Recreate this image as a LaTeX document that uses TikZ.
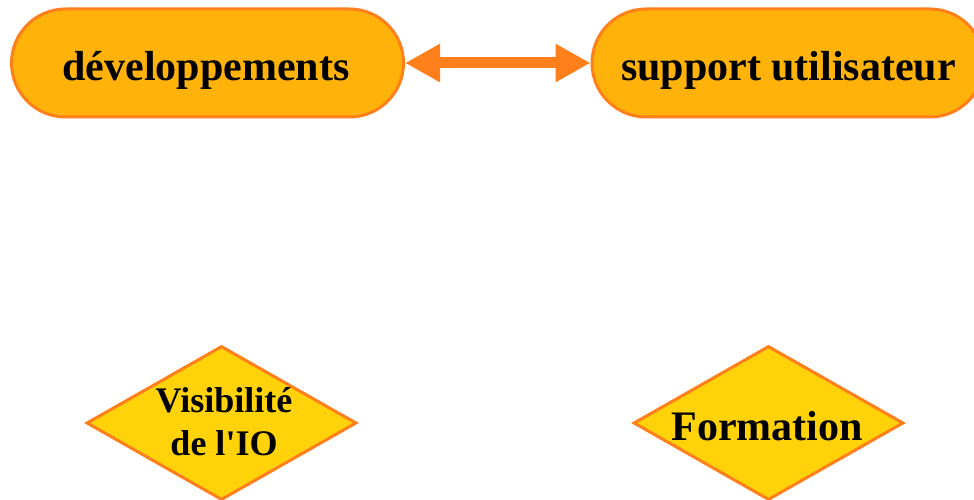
\documentclass[tikz,border=0pt]{standalone}
\usepackage{fontspec}
\setmainfont{Liberation Serif}
\usetikzlibrary{shapes.misc,shapes.geometric,arrows.meta}
\definecolor{pillfill}{RGB}{255,179,10}
\definecolor{diafill}{RGB}{255,210,10}
\definecolor{edgeor}{RGB}{255,127,26}
\tikzset{
  pill/.style={rounded rectangle, draw=edgeor, fill=pillfill, line width=3pt,
    minimum width=392pt, minimum height=108pt, inner sep=0pt},
  dia/.style={diamond, draw=edgeor, fill=diafill, line width=3pt,
    minimum width=270pt, minimum height=154pt, inner sep=0pt},
  bigtxt/.style={anchor=base, inner sep=0pt, font=\fontsize{42}{50}\selectfont\bfseries},
  smalltxt/.style={anchor=base, inner sep=0pt, font=\fontsize{36}{43}\selectfont\bfseries},
  link/.style={draw=edgeor, line width=11pt,
    {Triangle[length=35pt,width=36pt]}-{Triangle[length=35pt,width=36pt]}}
}
\begin{document}
\begin{tikzpicture}[x=1pt,y=-1pt]
\useasboundingbox (0,0) rectangle (974,500);
\node[pill] (dev) at (207.5,63) {};
\node[pill] (sup) at (788,63) {};
\node[dia] (vis) at (221.5,423) {};
\node[dia] (form) at (768.5,423) {};
\node[bigtxt] (devt) at (206,81) {développements};
\node[bigtxt] (supt) at (788.5,81) {support utilisateur};
\node[bigtxt] (formt) at (767,440) {Formation};
\node[smalltxt] (vist1) at (224,412) {Visibilité};
\node[smalltxt] (vist2) at (224,455) {de l\textquotesingle IO};
\draw[link] (dev.east) -- (sup.west);
\end{tikzpicture}
\end{document}
